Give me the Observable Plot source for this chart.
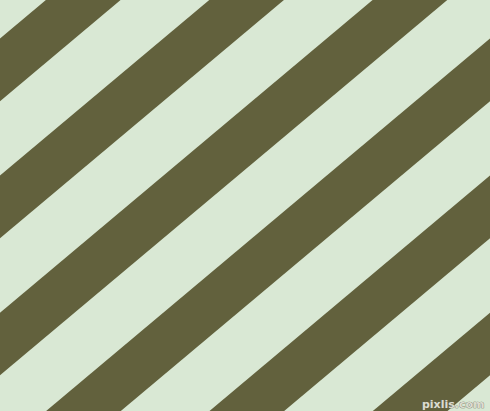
<!DOCTYPE html>
<html>
<head>
<meta charset="utf-8">
<script src="https://cdn.jsdelivr.net/npm/d3@7"></script>
<script src="https://cdn.jsdelivr.net/npm/@observablehq/plot@0.6"></script>
<style>
html, body { margin: 0; padding: 0; background: #d9e8d4; overflow: hidden; }
svg { display: block; }
</style>
</head>
<body>
<div id="chart"></div>
<script>
// stripe pattern parameters
const stripeIndex = [-1, 0, 1, 2, 3, 4, 5, 6];
const stripeAngleDeg = [40];
const stripePeriod = [105];
const darkWidth = [48];
const firstOffset = [29.5];
const xEnds = [0, 490];
const watermark = ["pixlis.com"];

const s = Math.sin(stripeAngleDeg[0] * Math.PI / 180);
const c = Math.cos(stripeAngleDeg[0] * Math.PI / 180);
const rows = [];
for (const k of stripeIndex) {
  const u0 = firstOffset[0] + k * stripePeriod[0];
  const u1 = u0 + darkWidth[0];
  for (const x of xEnds) {
    rows.push({stripe: k, x, y1: (u0 - x * s) / c, y2: (u1 - x * s) / c});
  }
}

const chart = Plot.plot({
  width: 490,
  height: 411,
  margin: 0,
  x: {domain: [0, 490], range: [0, 490], axis: null},
  y: {domain: [0, 411], range: [0, 411], axis: null},
  style: {background: "#d9e8d4"},
  marks: [
    Plot.areaY(rows, {x: "x", y1: "y1", y2: "y2", z: "stripe", fill: "#62613d", clip: true}),
    Plot.text(watermark, {x: 484, y: 404, text: d => d, textAnchor: "end", fontSize: 11, fontWeight: "bold",
      fill: "#dcdcd0", stroke: "#6a6a55", strokeWidth: 0.6, paintOrder: "stroke", fontFamily: "DejaVu Sans"})
  ]
});
document.getElementById("chart").appendChild(chart);
</script>
</body>
</html>
